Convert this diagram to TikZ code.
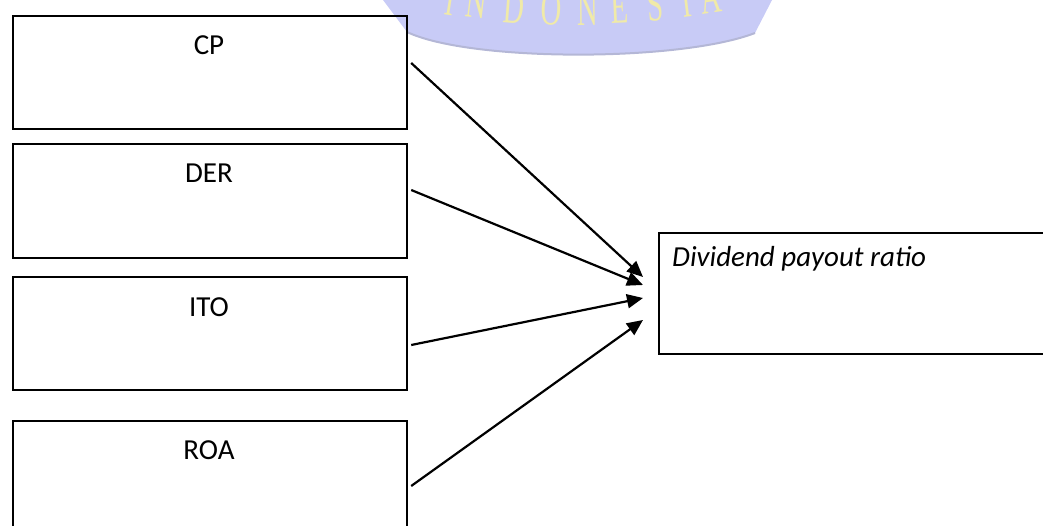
\documentclass[tikz,border=0pt]{standalone}
\usepackage{fontspec}
\setmainfont{Carlito}
\newfontfamily\wmfont[FakeStretch=0.6]{Liberation Serif}
\usetikzlibrary{arrows.meta,calc}
\definecolor{wmfill}{HTML}{C8CBF6}
\definecolor{wmrim}{HTML}{B4B7D6}
\definecolor{wmtext}{HTML}{F0EAA8}
\tikzset{
  box/.style={draw=black, line width=2.2pt, minimum width=394pt, minimum height=113pt, inner sep=0pt, anchor=north west},
  lbl/.style={font=\fontsize{29}{31}\selectfont, inner sep=0pt, anchor=center},
  conn/.style={line width=2.2pt, -{Triangle[length=16pt,width=14pt]}},
  wm/.style={font=\wmfont\fontsize{48}{48}\selectfont, text=wmtext, inner sep=0pt, anchor=base}
}
\begin{document}
\begin{tikzpicture}[x=1pt,y=-1pt]
\useasboundingbox (0,0) rectangle (1043,526);
\clip (0,0) rectangle (1043,526);
% watermark
\fill[wmfill] (383,0) -- (407,32) .. controls (470,62) and (680,62) .. (755,33) -- (772,0) -- cycle;
\draw[wmrim, line width=2pt] (407,32) .. controls (470,62) and (680,62) .. (755,33);
\node[wm, rotate=-9] (w1) at (448,15) {I};
\node[wm, rotate=-7] (w2) at (475,18) {N};
\node[wm, rotate=-4.5] (w3) at (513,23) {D};
\node[wm, rotate=-2] (w4) at (551,25) {O};
\node[wm, rotate=0.5] (w5) at (588,25) {N};
\node[wm, rotate=2.5] (w6) at (620,23) {E};
\node[wm, rotate=5] (w7) at (656,21) {S};
\node[wm, rotate=7] (w8) at (688,17) {I};
\node[wm, rotate=8.5] (w9) at (713,13) {A};
% boxes
\node[box] (cp) at (12,15) {};
\node[box, minimum height=114pt] (der) at (12,143) {};
\node[box] (ito) at (12,276) {};
\node[box] (roa) at (12,420) {};
\node[box, minimum width=420pt, minimum height=121pt] (dpr) at (658,232) {};
% labels
\node[lbl] (tcp) at (209,45) {CP};
\node[lbl] (tder) at (209,173) {DER};
\node[lbl] (tito) at (209,307) {ITO};
\node[lbl] (troa) at (209,450) {ROA};
\node[lbl, anchor=west] (tdpr) at (672,259) {\itshape Dividend payout ratio};
% connectors
\draw[conn] ($(cp.north east)+(3,48)$) -- ($(dpr.north west)+(-15,45)$);
\draw[conn] ($(der.north east)+(3,47)$) -- ($(dpr.north west)+(-15,53)$);
\draw[conn] ($(ito.north east)+(3,69)$) -- ($(dpr.north west)+(-15,66)$);
\draw[conn] ($(roa.north east)+(3,66)$) -- ($(dpr.north west)+(-15,88)$);
\end{tikzpicture}
\end{document}
